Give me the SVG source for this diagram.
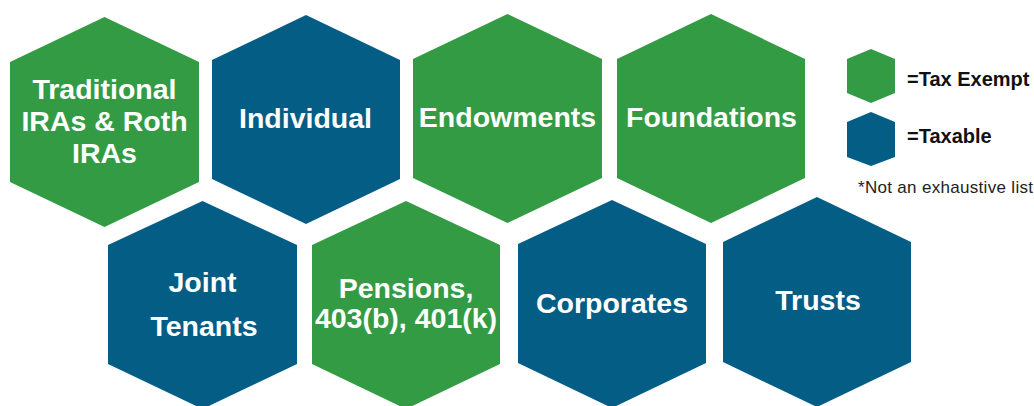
<svg xmlns="http://www.w3.org/2000/svg" width="1034" height="406" viewBox="0 0 1034 406">
<style>
.g{fill:#339b44}
.b{fill:#045d85}
.t{font-family:"Liberation Sans",Arial,sans-serif;font-weight:bold;font-size:28.5px;fill:#ffffff;text-anchor:middle}
.l{font-family:"Liberation Sans",Arial,sans-serif;font-weight:bold;font-size:20px;fill:#111111}
.n{font-family:"Liberation Sans",Arial,sans-serif;font-size:17px;fill:#222222}
</style>
<rect width="1034" height="406" fill="#ffffff"/>
<g id="node-traditional">
<polygon class="g" points="104.5,17 199,62 199,182 104.5,227 10,182 10,62"/>
<text class="t" x="104.5" y="99">Traditional</text>
<text class="t" x="104.5" y="131">IRAs &amp; Roth</text>
<text class="t" x="104.5" y="163">IRAs</text>
</g>
<g id="node-individual">
<polygon class="b" points="306,15 400,60 400,179 306,224 212,179 212,60"/>
<text class="t" x="305.5" y="128">Individual</text>
</g>
<g id="node-endowments">
<polygon class="g" points="507.5,14 602,59 602,178 507.5,223 413,178 413,59"/>
<text class="t" x="507.5" y="127">Endowments</text>
</g>
<g id="node-foundations">
<polygon class="g" points="711,14 805,59 805,178 711,223 617,178 617,59"/>
<text class="t" x="711.5" y="127">Foundations</text>
</g>
<g id="node-joint">
<polygon class="b" points="202.5,201 297,245 297,364 202.5,409 108,364 108,245"/>
<text class="t" x="202.5" y="292">Joint</text>
<text class="t" x="204" y="336">Tenants</text>
</g>
<g id="node-pensions">
<polygon class="g" points="406,201 500,245 500,364 406,409 312,364 312,245"/>
<text class="t" x="406" y="298">Pensions,</text>
<text class="t" x="406" y="328">403(b), 401(k)</text>
</g>
<g id="node-corporates">
<polygon class="b" points="612,200 706,244 706,363 612,408 518,363 518,244"/>
<text class="t" x="612" y="313">Corporates</text>
</g>
<g id="node-trusts">
<polygon class="b" points="817,197 911,242 911,362 817,407 723,362 723,242"/>
<text class="t" x="818" y="310">Trusts</text>
</g>
<g id="legend">
<polygon class="g" points="871,49 895,59 895,93 871,103 847,93 847,59"/>
<text class="l" x="907" y="86">=Tax Exempt</text>
<polygon class="b" points="871,112 895,122 895,157 871,166 847,157 847,122"/>
<text class="l" x="907" y="143">=Taxable</text>
<text class="n" x="858" y="193" textLength="175" lengthAdjust="spacing">*Not an exhaustive list</text>
</g>
<g id="connectors"/>
</svg>
